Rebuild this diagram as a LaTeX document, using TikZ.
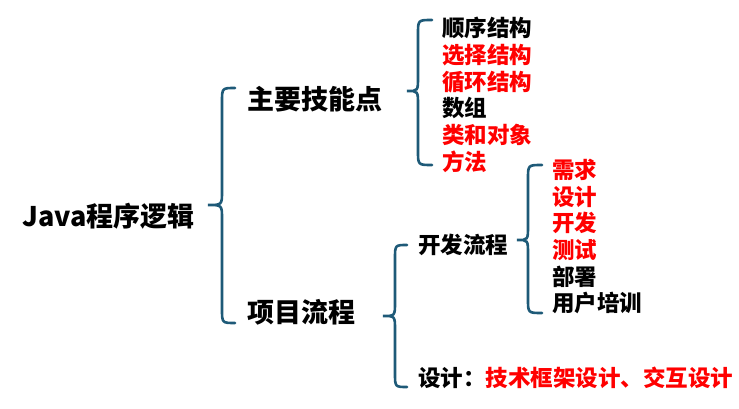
\documentclass[tikz,border=0pt]{standalone}
\usepackage{fontspec}
\setmainfont{Noto Sans CJK SC}
\definecolor{bracecol}{RGB}{30,90,120}
\definecolor{redtxt}{RGB}{255,0,0}
\tikzset{
  bracestyle/.style={draw=bracecol, line width=2.6pt, line cap=round},
  big/.style={anchor=base west, inner sep=0pt, font=\fontsize{27}{27}\selectfont\bfseries},
  small/.style={anchor=base west, inner sep=0pt, font=\fontsize{22.5}{22.5}\selectfont\bfseries},
  hl/.style={text=redtxt},
}
\newcommand\mybrc[6]{%
  \draw[bracestyle] (#3,#4) .. controls (#2,#4) .. (#2,{#4+14}) -- (#2,{#5-14})
    .. controls (#2,#5) .. (#1,#5) .. controls (#2,#5) .. (#2,{#5+14})
    -- (#2,{#6-14}) .. controls (#2,#6) .. (#3,#6);}
\begin{document}
\begin{tikzpicture}[x=1pt,y=-1pt]
\path[use as bounding box] (0,0) rectangle (739,409);
% nodes
\node[big] (root) at (22,226) {Java程序逻辑};
\node[big] (skill) at (247,110) {主要技能点};
\node[big] (proj) at (247,322) {项目流程};
\node[small] (s1) at (442,36.5) {顺序结构};
\node[small,hl] (s2) at (442,63.5) {选择结构};
\node[small,hl] (s3) at (442,90.5) {循环结构};
\node[small] (s4) at (442,116.5) {数组};
\node[small,hl] (s5) at (442,143.5) {类和对象};
\node[small,hl] (s6) at (442,170.5) {方法};
\node[small] (dev) at (418,253.5) {开发流程};
\node[small,hl] (d1) at (552,178.5) {需求};
\node[small,hl] (d2) at (552,205.5) {设计};
\node[small,hl] (d3) at (552,231.5) {开发};
\node[small,hl] (d4) at (552,258.5) {测试};
\node[small] (d5) at (552,285.5) {部署};
\node[small] (d6) at (552,311.5) {用户培训};
\node[small] (des) at (418,386.5) {设计：\textcolor{redtxt}{技术框架设计、交互设计}};
% braces
\mybrc{208}{222}{235}{88}{205}{323}
\mybrc{407}{418}{432}{20}{91}{165}
\mybrc{383}{395}{407}{245}{316}{387}
\mybrc{517}{528}{542}{165}{240}{313}
\end{tikzpicture}
\end{document}
